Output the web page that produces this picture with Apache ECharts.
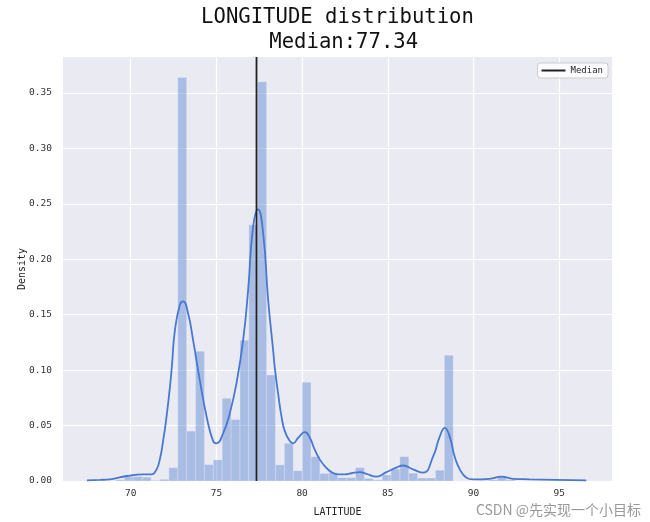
<!DOCTYPE html>
<html><head><meta charset="utf-8">
<script src="https://cdn.jsdelivr.net/npm/echarts@6/dist/echarts.min.js"></script>
<style>html,body{margin:0;padding:0;background:#fff}#c{width:650px;height:522px}</style>
</head><body><div id="c"></div>
<script>
// ---- data ----
const titleLine1 = 'LONGITUDE distribution';
const titleLine2 = 'Median:77.34';
const medianValue = 77.34;
const xAxisName = 'LATITUDE';
const yAxisName = 'Density';
const watermark = 'CSDN @先实现一个小目标';
const xTicks = [70, 75, 80, 85, 90, 95];
const yTicks = [0, 0.05, 0.10, 0.15, 0.20, 0.25, 0.30, 0.35];
const xMin = 66.05, xMax = 98.08, yMax = 0.3824;

// histogram: 50 equal-width bins
const binStart = 69.117;
const binWidth = 0.5184;
const binDensity = [
  0.001, 0.004, 0.004, 0.0035, 0.0005, 0.0015,
  0.012, 0.364, 0.045, 0.117, 0.0148, 0.019, 0.0746, 0.0554, 0.127, 0.231,
  0.360, 0.0955, 0.0146, 0.034, 0.0092, 0.089, 0.022, 0.0068, 0.0074, 0.003,
  0.003, 0.012, 0.0023, 0.001, 0.0056, 0.0107, 0.022, 0.0071, 0.0027, 0.0027,
  0.0098, 0.1134, 0, 0, 0, 0.0005, 0.001, 0.0045, 0.001, 0,
  0, 0, 0, 0.0005
];

// KDE curve
const kdeX = [67.45, 68.2, 68.79, 69.76, 70.73, 71.22, 71.51, 71.70, 71.90, 72.09, 72.29, 72.40, 72.58,
  72.87, 73.06, 73.35, 73.64, 74.03, 74.43, 74.81, 75.01, 75.39, 75.78, 76.17, 76.56, 76.85, 77.14,
  77.43, 77.73, 78.02, 78.31, 78.40, 78.60, 78.80, 78.99, 79.28, 79.48, 79.77, 80.16, 80.45, 80.74,
  81.03, 81.32, 81.71, 82.10, 82.49, 82.88, 83.36, 83.75, 84.34, 84.92, 85.50, 85.89, 86.47, 87.06,
  87.64, 88.03, 88.32, 88.61, 88.90, 89.20, 89.59, 89.97, 90.94, 91.63, 92.30, 93.28, 94.83, 96.58];
const kdeY = [0.0005, 0.001, 0.0015, 0.0045, 0.006, 0.006, 0.0105, 0.0195, 0.037, 0.058, 0.085, 0.103, 0.136,
  0.159, 0.162, 0.151, 0.127, 0.091, 0.058, 0.036, 0.034, 0.043, 0.061, 0.088, 0.127, 0.172, 0.229,
  0.245, 0.223, 0.163, 0.118, 0.103, 0.079, 0.058, 0.045, 0.036, 0.034, 0.039, 0.044, 0.039, 0.028,
  0.0195, 0.0135, 0.008, 0.006, 0.006, 0.007, 0.008, 0.0065, 0.004, 0.008, 0.012, 0.014, 0.0105, 0.0075,
  0.022, 0.040, 0.048, 0.040, 0.022, 0.0105, 0.003, 0.0015, 0.002, 0.0039, 0.002, 0.0015, 0.001, 0.0005];

// ---- build ----
const mono = 'DejaVu Sans Mono';
const histData = binDensity.map((d, i) => [binStart + i * binWidth, binStart + (i + 1) * binWidth, d]);
const kdeData = kdeX.map((x, i) => [x, kdeY[i]]);

const chart = echarts.init(document.getElementById('c'), null, {renderer: 'canvas'});
chart.setOption({
  animation: false,
  backgroundColor: '#ffffff',
  grid: {left: 63, right: 38, top: 57, bottom: 37, show: true, backgroundColor: '#EAEAF2', borderWidth: 0},
  graphic: [
    {type: 'text', x: 337.5, y: 18, z: 10, style: {text: titleLine1, font: '20.6px "' + mono + '"', fill: '#111', textAlign: 'center', textVerticalAlign: 'middle', align: 'center', verticalAlign: 'middle'}},
    {type: 'text', x: 343.7, y: 43, z: 10, style: {text: titleLine2, font: '20.6px "' + mono + '"', fill: '#111', textAlign: 'center', textVerticalAlign: 'middle', align: 'center', verticalAlign: 'middle'}},
    {type: 'text', x: 641, y: 510, z: 10, style: {text: watermark, font: '14px "Noto Sans CJK SC"', fill: '#999999', textAlign: 'right', textVerticalAlign: 'middle', align: 'right', verticalAlign: 'middle'}}
  ],
  legend: {
    data: [{name: 'Median', icon: 'rect'}],
    right: 42, top: 63,
    itemWidth: 24, itemHeight: 2, itemGap: 6,
    padding: [3, 5, 3, 4],
    backgroundColor: 'rgba(255,255,255,0.8)', borderColor: '#cccccc', borderWidth: 1, borderRadius: 3,
    textStyle: {fontFamily: mono, fontSize: 9, color: '#262626'}
  },
  xAxis: {
    type: 'value', min: xMin, max: xMax,
    name: xAxisName, nameLocation: 'middle', nameGap: 26, nameMoveOverlap: false,
    nameTextStyle: {fontFamily: mono, fontSize: 10, color: '#262626'},
    axisLine: {show: false}, axisTick: {show: false},
    axisLabel: {customValues: xTicks, fontFamily: mono, fontSize: 9.5, color: '#333', margin: 8},
    splitLine: {show: true, showMinLine: false, showMaxLine: false, lineStyle: {color: '#ffffff', width: 1.2}}
  },
  yAxis: {
    type: 'value', min: 0, max: yMax, interval: 0.05,
    name: yAxisName, nameLocation: 'middle', nameGap: 36, nameMoveOverlap: false,
    nameTextStyle: {fontFamily: mono, fontSize: 10, color: '#262626'},
    axisLine: {show: false}, axisTick: {show: false},
    axisLabel: {customValues: yTicks, formatter: v => v.toFixed(2), fontFamily: mono, fontSize: 9.5, color: '#333', margin: 11},
    splitLine: {show: true, showMinLine: false, showMaxLine: false, lineStyle: {color: '#ffffff', width: 1.2}}
  },
  series: [
    {
      type: 'custom', name: 'hist', z: 2,
      encode: {x: [0, 1], y: 2},
      data: histData,
      renderItem: (params, api) => {
        const p0 = api.coord([api.value(0), api.value(2)]);
        const p1 = api.coord([api.value(1), 0]);
        return {type: 'rect', shape: {x: p0[0], y: p0[1], width: p1[0] - p0[0], height: p1[1] - p0[1]},
          style: {fill: 'rgba(72,120,208,0.4)', stroke: 'rgba(240,240,248,0.5)', lineWidth: 0.6}};
      }
    },
    {
      type: 'line', name: 'kde', z: 3, data: kdeData, symbol: 'none', smooth: 0.5,
      lineStyle: {color: '#4878d0', width: 1.8}, itemStyle: {color: '#4878d0'}
    },
    {
      type: 'line', name: 'Median', z: 4, data: [[medianValue, 0], [medianValue, yMax]], symbol: 'none',
      lineStyle: {color: '#222', width: 1.8}, itemStyle: {color: '#222'}
    }
  ]
});
</script>
</body></html>
